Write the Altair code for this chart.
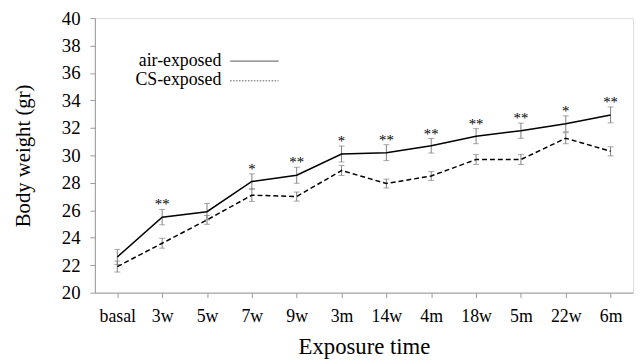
import altair as alt
import pandas as pd

categories = ["basal", "3w", "5w", "7w", "9w", "3m", "14w", "4m", "18w", "5m", "22w", "6m"]
air_values = [22.6, 25.5, 25.9, 28.1, 28.55, 30.1, 30.2, 30.7, 31.4, 31.8, 32.3, 32.95]
air_err = [0.55, 0.56, 0.6, 0.55, 0.58, 0.58, 0.58, 0.53, 0.55, 0.55, 0.58, 0.58]
cs_values = [21.9, 23.6, 25.3, 27.1, 27.0, 28.9, 27.95, 28.5, 29.7, 29.7, 31.25, 30.3]
cs_err = [0.4, 0.36, 0.32, 0.45, 0.33, 0.36, 0.32, 0.32, 0.36, 0.36, 0.4, 0.33]
stars = ["", "**", "", "*", "**", "*", "**", "**", "**", "**", "*", "**"]

FONT = "Liberation Serif"

rows = []
for c, v, e in zip(categories, air_values, air_err):
    rows.append({"cat": c, "series": "air-exposed", "value": v, "lo": v - e, "hi": v + e})
for c, v, e in zip(categories, cs_values, cs_err):
    rows.append({"cat": c, "series": "CS-exposed", "value": v, "lo": v - e, "hi": v + e})
df = pd.DataFrame(rows)

star_df = pd.DataFrame({"cat": categories, "top": [v + e for v, e in zip(air_values, air_err)], "label": stars})
star_df = star_df[star_df["label"] != ""]

xscale = alt.Scale(type="point", padding=0.5, domain=categories)
yscale = alt.Scale(domain=[20, 40], nice=False, zero=False)

x_axis = alt.Axis(title="Exposure time", labelAngle=0, labelFont=FONT, labelFontSize=18,
                  labelColor="black", titleFont=FONT, titleFontSize=23, titleFontWeight="normal",
                  titleColor="black", domainColor="#999999", tickColor="#999999", tickSize=5,
                  labelPadding=10, titlePadding=11, grid=False, labelOverlap=False)
y_axis = alt.Axis(title="Body weight (gr)", values=list(range(20, 41, 2)), labelFont=FONT, labelFontSize=19,
                  labelColor="black", titleFont=FONT, titleFontSize=21, titleFontWeight="normal",
                  titleColor="black", domainColor="#999999", tickColor="#999999", tickSize=5,
                  labelPadding=10, titlePadding=28, grid=False, labelOverlap=False, labelBaseline="middle")


def X():
    return alt.X("cat:N", sort=categories, scale=xscale, axis=x_axis)


def Y(field):
    return alt.Y(field, scale=yscale, axis=y_axis)


base = alt.Chart(df)

err_rule = base.mark_rule(color="#808080", strokeWidth=1).encode(x=X(), y=Y("lo:Q"), y2="hi:Q")
cap_lo = base.mark_tick(color="#808080", thickness=1, size=6).encode(x=X(), y=Y("lo:Q"))
cap_hi = base.mark_tick(color="#808080", thickness=1, size=6).encode(x=X(), y=Y("hi:Q"))

air_line = alt.Chart(df[df["series"] == "air-exposed"]).mark_line(color="black", strokeWidth=1.5).encode(
    x=X(), y=Y("value:Q"))
cs_line = alt.Chart(df[df["series"] == "CS-exposed"]).mark_line(color="black", strokeWidth=1.5,
                                                                 strokeDash=[5, 3]).encode(
    x=X(), y=Y("value:Q"))

star_text = alt.Chart(star_df).mark_text(font=FONT, fontSize=15, baseline="bottom", dy=3,
                                         fill="black").encode(
    x=X(), y=Y("top:Q"), text="label:N")

leg_text1 = alt.Chart(pd.DataFrame({"name": ["air-exposed"]})).mark_text(
    font=FONT, fontSize=18, align="right", baseline="middle", color="black").encode(
    x=alt.value(128), y=alt.value(43), text="name:N")
leg_text2 = alt.Chart(pd.DataFrame({"name": ["CS-exposed"]})).mark_text(
    font=FONT, fontSize=18, align="right", baseline="middle", color="black").encode(
    x=alt.value(128), y=alt.value(63), text="name:N")
leg_line1 = alt.Chart(pd.DataFrame({"name": ["air-exposed"]})).mark_rule(color="#555555", strokeWidth=1).encode(
    x=alt.value(137), x2=alt.value(186), y=alt.value(43.5))
leg_line2 = alt.Chart(pd.DataFrame({"name": ["CS-exposed"]})).mark_rule(color="#555555", strokeWidth=1,
                                                                       strokeDash=[1.5, 1.5]).encode(
    x=alt.value(137), x2=alt.value(186), y=alt.value(63.5))

chart = alt.layer(err_rule, cap_lo, cap_hi, cs_line, air_line, star_text,
                  leg_text1, leg_text2, leg_line1, leg_line2).properties(
    width=545, height=278,
    autosize=alt.AutoSizeParams(type="none"),
    padding={"left": 88, "top": 8, "right": 2, "bottom": 70},
).configure_view(stroke=None).configure(background="white")

chart.save("out.html", embed_options={"renderer": "svg", "actions": False})
